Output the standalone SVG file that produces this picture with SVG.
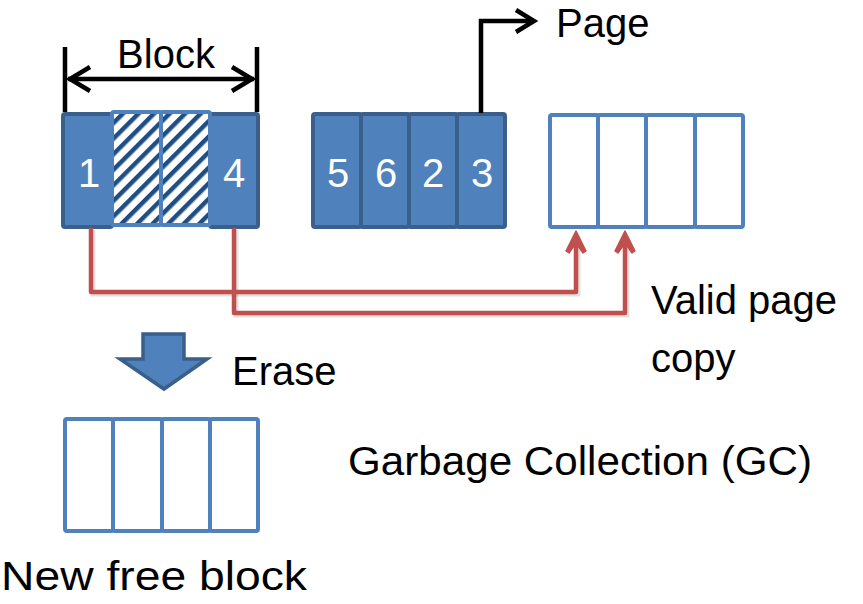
<svg xmlns="http://www.w3.org/2000/svg" width="863" height="604" viewBox="0 0 863 604">
  <style>
    .lbl { font-family: "Liberation Sans", Arial, sans-serif; font-size: 40px; fill: #000; }
    .num { font-family: "Liberation Sans", Arial, sans-serif; font-size: 40px; fill: #fff; text-anchor: middle; }
    .full { fill: #4f81bd; stroke: #3a5f8b; stroke-width: 4; }
    .empty { fill: #fff; stroke: #4f81bd; stroke-width: 4; }
    .hatch { fill: url(#stripes); stroke: #4f81bd; stroke-width: 4; }
    .blk { fill: none; stroke: #000; stroke-width: 4.5; stroke-linejoin: miter; }
    .red { fill: none; stroke: #c0504d; stroke-width: 4.5; stroke-linejoin: round; }
    .shadow { fill: none; stroke: #000; stroke-opacity: 0.12; stroke-width: 5; }
  </style>
  <defs>
    <pattern id="stripes" patternUnits="userSpaceOnUse" width="11" height="11" patternTransform="rotate(45)">
      <rect width="11" height="11" fill="#fff"/>
      <rect width="4.5" height="11" fill="#1f4e85"/>
    </pattern>
    <marker id="redhead" viewBox="0 0 12 12" refX="6" refY="2" markerWidth="12" markerHeight="12" markerUnits="userSpaceOnUse" orient="auto-start-reverse">
      <polyline points="0,10 6,1 12,10" fill="none" stroke="#c0504d" stroke-width="0"/>
    </marker>
  </defs>

  <!-- Block size indicator -->
  <g id="block-dimension">
    <line class="blk" x1="65" y1="47" x2="65" y2="112"/>
    <line class="blk" x1="257" y1="47" x2="257" y2="112"/>
    <line class="blk" x1="68" y1="79" x2="254" y2="79"/>
    <polyline class="blk" points="90,67 70,79 90,91"/>
    <polyline class="blk" points="232,67 252,79 232,91"/>
    <text class="lbl" x="166" y="68" text-anchor="middle">Block</text>
  </g>

  <!-- Victim block: valid pages 1 and 4, two invalid pages -->
  <g id="victim-block">
    <rect class="full" x="63" y="114" width="49" height="113" rx="2"/>
    <rect class="full" x="210" y="114" width="48" height="113" rx="2"/>
    <rect class="hatch" x="112" y="112" width="49" height="113" rx="2"/>
    <rect class="hatch" x="161" y="112" width="49" height="113" rx="2"/>
    <text class="num" x="89" y="187">1</text>
    <text class="num" x="234" y="187">4</text>
  </g>

  <!-- Full block with pages 5 6 2 3 -->
  <g id="full-block">
    <rect class="full" x="313" y="114" width="48" height="113" rx="2"/>
    <rect class="full" x="361" y="114" width="48" height="113" rx="2"/>
    <rect class="full" x="409" y="114" width="48" height="113" rx="2"/>
    <rect class="full" x="457" y="114" width="48" height="113" rx="2"/>
    <text class="num" x="338" y="187">5</text>
    <text class="num" x="386" y="187">6</text>
    <text class="num" x="433" y="187">2</text>
    <text class="num" x="482" y="187">3</text>
  </g>

  <!-- Page pointer -->
  <g id="page-label">
    <polyline class="blk" points="481,113 481,21 530,21"/>
    <polyline class="blk" points="516,10 534,21 516,32"/>
    <text class="lbl" x="556" y="37">Page</text>
  </g>

  <!-- Destination free block -->
  <g id="target-block">
    <rect class="empty" x="550" y="115" width="48" height="112" rx="2"/>
    <rect class="empty" x="598" y="115" width="48" height="112" rx="2"/>
    <rect class="empty" x="646" y="115" width="49" height="112" rx="2"/>
    <rect class="empty" x="695" y="115" width="48" height="112" rx="2"/>
  </g>

  <!-- Valid page copy connectors -->
  <g id="connectors">
    <polyline class="shadow" points="93,230 93,294 578,294 578,242"/>
    <polyline class="shadow" points="236,230 236,315 627,315 627,242"/>
    <polyline class="red" points="91,228 91,292 576,292 576,236"/>
    <polyline class="red" points="234,228 234,313 625,313 625,236"/>
    <polygon points="576,231 566,251 569,253 576,243 583,253 586,251" fill="#c0504d" stroke="#c0504d" stroke-width="1.5" stroke-linejoin="round"/>
    <polygon points="625,231 615,251 618,253 625,243 632,253 635,251" fill="#c0504d" stroke="#c0504d" stroke-width="1.5" stroke-linejoin="round"/>
  </g>

  <g id="copy-label">
    <text class="lbl" x="651" y="314">Valid page</text>
    <text class="lbl" x="651" y="372">copy</text>
  </g>

  <!-- Erase step -->
  <g id="erase-arrow">
    <polygon points="143,334 184,334 184,359 207,359 164,389 120,359 143,359" fill="#4f81bd" stroke="#3a5f8b" stroke-width="3.5" stroke-linejoin="miter"/>
    <text class="lbl" x="232" y="385">Erase</text>
  </g>

  <!-- Newly erased block -->
  <g id="new-free-block">
    <rect class="empty" x="65" y="419" width="48" height="112" rx="2"/>
    <rect class="empty" x="113" y="419" width="49" height="112" rx="2"/>
    <rect class="empty" x="162" y="419" width="48" height="112" rx="2"/>
    <rect class="empty" x="210" y="419" width="48" height="112" rx="2"/>
    <text class="lbl" x="1" y="590" textLength="306" lengthAdjust="spacingAndGlyphs">New free block</text>
  </g>

  <g id="title">
    <text class="lbl" x="348" y="475" textLength="464" lengthAdjust="spacingAndGlyphs">Garbage Collection (GC)</text>
  </g>
</svg>
